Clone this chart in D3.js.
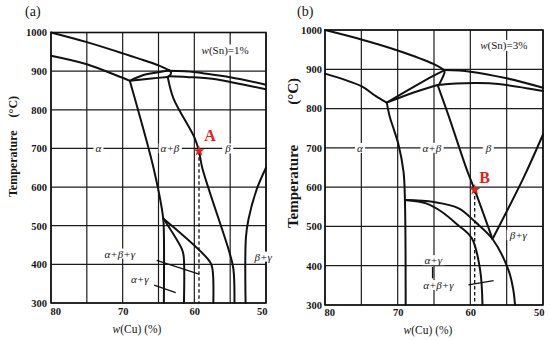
<!DOCTYPE html>
<html><head><meta charset="utf-8">
<script src="https://cdn.jsdelivr.net/npm/d3@7"></script>
<style>html,body{margin:0;padding:0;background:#fff}svg{display:block}</style>
</head><body>
<svg id="c" width="550" height="340"></svg>
<script>
// ---------- data ----------
const cuTicks = [80, 75, 70, 65, 60, 55, 50];
const cuTickLabels = [80, 70, 60, 50];
const tempTicks = [300, 400, 500, 600, 700, 800, 900, 1000];
const panelTitles = ["(a)", "(b)"];
const snLabels = ["=1%", "=3%"];

// Panel (a): w(Sn)=1%   points are [w(Cu) %, T °C]
const aLiquidus = [[80,1000],[75,975],[70,946],[65,915],[63.5,902]];
const aSolidus = [[80,940],[75,918],[71,890],[69,875]];
const aCornerUpper = [[69,875],[67.1,890],[65,897],[63.5,902]];
const aCornerLower = [[69,875],[66,881],[63.7,885]];
const aJunction = [[63.5,902],[63.25,896],[63.4,889],[63.7,885]];
const aBandUpper = [[63.5,901],[60.1,898],[59,895],[55,884],[50,865]];
const aBandLower = [[63.6,887],[60.1,884],[57,879],[55,872],[50,853]];
const aAlpha = [[69,875],[68.3,829],[65.7,650],[64.35,520],[64.25,480],[64.25,300]];
const aBeta = [[63.7,884],[62.9,829],[60,729],[59.35,693],[58.9,650],[55.1,431],[54.55,388],[54.4,300]];
const aGammaOuter = [[64.3,518],[57.8,406],[57.45,385],[57.35,300]];
const aGammaInner = [[64.3,518],[61.75,440],[61.5,423],[61.45,300]];
const aBetaGamma = [[50,650],[51.3,594],[52.45,516],[52.8,470],[52.85,300]];
const aDashed = [[59.35,693],[59.35,300]];
const aLeaders = [[[65.25,410],[59.35,375]], [[65.6,346],[62.6,327]]];
const aPoint = [59.35, 693];
const aPhaseNames = ["α", "α+β", "β", "α+β+γ", "α+γ", "β+γ"];
const aPhaseAt = [[73.4,700],[63.4,700],[55.3,700],[70.4,428],[67.6,362],[50.4,420]];
const aSnAt = [55.7, 956];

// Panel (b): w(Sn)=3%
const bLiquidus = [[80,1000],[75,976],[70,948],[65,913],[63.6,898]];
const bSolidus = [[80,889],[75,857],[73.1,833],[71.5,815]];
const bCornerUpper = [[71.5,815],[67.8,855],[65.1,883],[63.6,897]];
const bCornerLower = [[71.5,815],[67.8,841],[64.5,860]];
const bJunction = [[63.6,897],[63.55,892],[64.3,861]];
const bBandUpper = [[63.6,898],[60,894],[55,877],[50,853]];
const bBandLower = [[64.5,860],[62,864],[59,865],[57,864],[55,860],[50,845]];
const bAlpha = [[71.5,815],[71.1,780],[70.6,751],[69.9,709],[69.2,640],[69.0,567],[68.9,300]];
const bBeta = [[64.5,860],[63.0,782],[60.4,640],[59.4,593],[56.95,468]];
const bBetaGamma = [[50,734],[52.7,623],[56.95,468]];
const bGammaOuter = [[69.0,567],[65,562],[61.6,546],[59.3,511],[56.95,468],[54.75,389],[54.1,340],[53.85,300]];
const bGammaInner = [[69.0,567],[66,558],[64,538],[61.8,505],[59.8,470],[58.65,389],[58.33,300]];
const bDashed = [[59.4,593],[59.4,300]];
const bLeaders = [[[60.26,351],[56.8,362]], [[65.2,397],[65.2,368]]];
const bPoint = [59.4, 593];
const bPhaseNames = ["α", "α+β", "β", "α+γ", "α+β+γ", "β+γ"];
const bPhaseAt = [[75.2,700],[65.3,700],[57.5,700],[65.1,414],[64.4,351],[53.4,478]];
const bSnAt = [55.4, 962];
const pointNames = ["A", "B"];

// ---------- drawing ----------
const FONT = '"Liberation Serif","Times New Roman",serif';
const svg = d3.select("#c");

function drawPanel(cfg, d) {
  const g = svg.append("g");
  const x = d3.scaleLinear().domain([80, 50]).range([cfg.x0, cfg.x1]);
  const y = d3.scaleLinear().domain([300, 1000]).range([cfg.y0, cfg.y1]);

  // grid
  g.append("g").selectAll("line").data(cuTicks).join("line")
    .attr("x1", v => x(v)).attr("x2", v => x(v)).attr("y1", y(300)).attr("y2", y(1000))
    .attr("stroke", "#1c1c1c").attr("stroke-width", 1.2);
  g.append("g").selectAll("line").data(tempTicks).join("line")
    .attr("y1", v => y(v)).attr("y2", v => y(v)).attr("x1", x(80)).attr("x2", x(50))
    .attr("stroke", "#1c1c1c").attr("stroke-width", 1.2);
  g.append("rect").attr("x", x(80)).attr("y", y(1000))
    .attr("width", x(50) - x(80)).attr("height", y(300) - y(1000))
    .attr("fill", "none").attr("stroke", "#111").attr("stroke-width", 1.6);

  // axes
  const ya = g.append("g").attr("transform", `translate(${x(80)},0)`)
    .call(d3.axisLeft(y).tickValues(tempTicks).tickSize(0).tickPadding(cfg.yPad).tickFormat(d3.format("d")));
  ya.select(".domain").remove();
  ya.selectAll("text").attr("font-family", FONT).attr("font-size", 10.5)
    .attr("font-weight", "bold").attr("fill", "#161616");
  const xa = g.append("g").attr("transform", `translate(0,${y(300)})`)
    .call(d3.axisBottom(x).tickValues(cuTickLabels).tickSize(0).tickPadding(cfg.xPad).tickFormat(d3.format("d")));
  xa.select(".domain").remove();
  xa.selectAll("text").attr("font-family", FONT).attr("font-size", 10.5)
    .attr("font-weight", "bold").attr("fill", "#161616")
    .attr("text-anchor", (v, i, n) => i === 0 ? "start" : (i === n.length - 1 ? "end" : "middle"))
    .attr("dx", (v, i, n) => i === 0 ? -1 : (i === n.length - 1 ? 1 : 0));

  // axis titles
  const yt = g.append("text").attr("transform", `translate(${cfg.ytX},${cfg.ytY}) rotate(-90)`)
    .attr("text-anchor", "middle").attr("font-family", FONT).attr("font-weight", "bold")
    .attr("font-size", cfg.ytSize).attr("fill", "#161616");
  yt.append("tspan").text("Temperature");
  yt.append("tspan").attr("dx", cfg.ytGap).text("(°C)");
  const xt = g.append("text").attr("x", cfg.xtX).attr("y", cfg.xtY).attr("text-anchor", "middle")
    .attr("font-family", FONT).attr("font-size", 11.5).attr("fill", "#161616");
  xt.append("tspan").attr("font-style", "italic").text("w");
  xt.append("tspan").text("(Cu) (%)");
  g.append("text").attr("x", cfg.ptX).attr("y", 16).attr("font-family", FONT)
    .attr("font-size", 14).attr("fill", "#161616").text(d.title);

  // labels with white background
  function label(px, py, parts, size) {
    const t = g.append("text").attr("x", px).attr("y", py).attr("text-anchor", "middle")
      .attr("dominant-baseline", "central").attr("font-family", FONT).attr("font-size", size).attr("fill", "#161616");
    parts.forEach(p => t.append("tspan").attr("font-style", p[1] ? "italic" : "normal").text(p[0]));
    const b = t.node().getBBox();
    g.insert("rect", () => t.node()).attr("x", b.x - 2).attr("y", b.y + 1).attr("width", b.width + 4)
      .attr("height", b.height - 2).attr("fill", "#fff");
  }
  d.phaseNames.forEach((n, i) => label(x(d.phaseAt[i][0]), y(d.phaseAt[i][1]), [[n, true]], 11));
  label(x(d.snAt[0]), y(d.snAt[1]), [["w", true], ["(Sn)", false], [d.sn, false]], 11);

  // phase boundaries
  const smooth = d3.line().x(p => x(p[0])).y(p => y(p[1])).curve(d3.curveCatmullRom.alpha(0.5));
  const straight = d3.line().x(p => x(p[0])).y(p => y(p[1]));
  g.append("g").selectAll("path").data(d.lines).join("path")
    .attr("d", smooth).attr("fill", "none").attr("stroke", "#111")
    .attr("stroke-width", 2).attr("stroke-linejoin", "round").attr("stroke-linecap", "round");
  g.append("g").selectAll("path").data(d.leaders).join("path")
    .attr("d", straight).attr("fill", "none").attr("stroke", "#111").attr("stroke-width", 1.3);
  g.append("path").datum(d.dashed).attr("d", straight).attr("fill", "none")
    .attr("stroke", "#111").attr("stroke-width", 1.3).attr("stroke-dasharray", "3.5,2.5");

  // marked point
  g.append("path").attr("d", d3.symbol(d3.symbolStar, 38)())
    .attr("transform", `translate(${x(d.point[0])},${y(d.point[1])})`).attr("fill", "#e3211c");
  g.append("text").attr("x", x(d.point[0]) + cfg.pdx).attr("y", y(d.point[1]) + cfg.pdy)
    .attr("text-anchor", "middle").attr("font-family", FONT).attr("font-weight", "bold")
    .attr("font-size", 16).attr("fill", "#e3211c").text(d.pointName);
}

drawPanel(
  {x0: 51, x1: 266, y0: 303, y1: 32.5, yPad: 4, xPad: 5, ytX: 17, ytY: 146.5, ytSize: 12, ytGap: 13,
   xtX: 137, xtY: 333, ptX: 25, pdx: 11, pdy: -10},
  {title: panelTitles[0], sn: snLabels[0],
   lines: [aLiquidus, aSolidus, aCornerUpper, aCornerLower, aJunction, aBandUpper, aBandLower,
           aAlpha, aBeta, aGammaOuter, aGammaInner, aBetaGamma],
   leaders: aLeaders, dashed: aDashed, point: aPoint, pointName: pointNames[0],
   phaseNames: aPhaseNames, phaseAt: aPhaseAt, snAt: aSnAt});

drawPanel(
  {x0: 325, x1: 543, y0: 305, y1: 30, yPad: 3, xPad: 4, ytX: 298, ytY: 153, ytSize: 15, ytGap: 40,
   xtX: 428, xtY: 334, ptX: 297, pdx: 10, pdy: -7},
  {title: panelTitles[1], sn: snLabels[1],
   lines: [bLiquidus, bSolidus, bCornerUpper, bCornerLower, bJunction, bBandUpper, bBandLower,
           bAlpha, bBeta, bBetaGamma, bGammaOuter, bGammaInner],
   leaders: bLeaders, dashed: bDashed, point: bPoint, pointName: pointNames[1],
   phaseNames: bPhaseNames, phaseAt: bPhaseAt, snAt: bSnAt});
</script>
</body></html>
